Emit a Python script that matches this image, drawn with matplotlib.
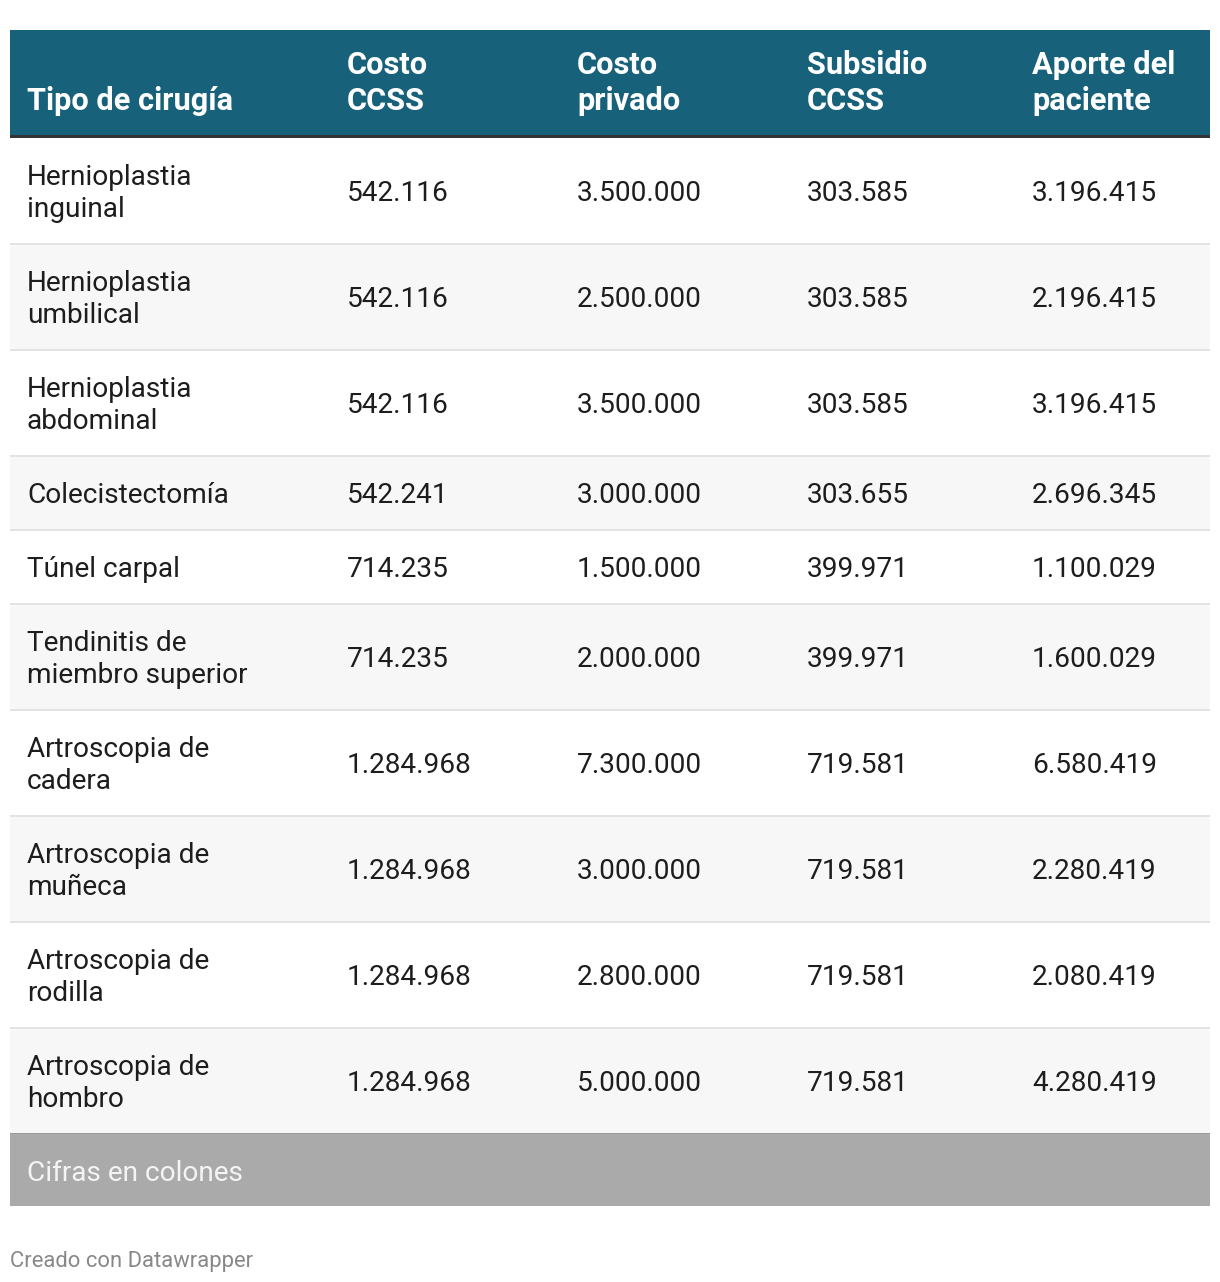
import matplotlib
matplotlib.use("Agg")
import matplotlib.pyplot as plt
from matplotlib.patches import Rectangle

# ---------------- data ----------------
tipos = [
    "Hernioplastia\ninguinal",
    "Hernioplastia\numbilical",
    "Hernioplastia\nabdominal",
    "Colecistectomía",
    "Túnel carpal",
    "Tendinitis de\nmiembro superior",
    "Artroscopia de\ncadera",
    "Artroscopia de\nmuñeca",
    "Artroscopia de\nrodilla",
    "Artroscopia de\nhombro",
]
costo_ccss = [542116, 542116, 542116, 542241, 714235, 714235, 1284968, 1284968, 1284968, 1284968]
costo_privado = [3500000, 2500000, 3500000, 3000000, 1500000, 2000000, 7300000, 3000000, 2800000, 5000000]
subsidio_ccss = [303585, 303585, 303585, 303655, 399971, 399971, 719581, 719581, 719581, 719581]
aporte_paciente = [3196415, 2196415, 3196415, 2696345, 1100029, 1600029, 6580419, 2280419, 2080419, 4280419]
headers = ["Tipo de cirugía", "Costo\nCCSS", "Costo\nprivado", "Subsidio\nCCSS", "Aporte del\npaciente"]
nota = "Cifras en colones"
credito = "Creado con Datawrapper"

# ---------------- style ----------------
W, H = 1220, 1282
DPI = 100
PX = 72.0 / DPI  # points per pixel
FONT = "Roboto"
body_px = 28.0
head_px = 30.8
cap = 0.711

col_x = [27, 347, 577, 807, 1032]
left, right = 10, 1210
top = 30
head_h = 105
border_h = 3
line_gap_body = 32
line_gap_head = 36

header_color = "#17627a"
text_color = "#1d1d1d"
alt_color = "#f7f7f7"
sep_color = "#e3e3e3"
footer_color = "#aaaaaa"


def fmt(v):
    return f"{v:,}".replace(",", ".")


fig = plt.figure(figsize=(W / DPI, H / DPI), dpi=DPI)
ax = fig.add_axes([0, 0, 1, 1])
ax.set_xlim(0, W)
ax.set_ylim(H, 0)
ax.axis("off")
fig.patch.set_facecolor("white")


def draw_lines(x, center, text, px, gap, **kw):
    lines = text.split("\n")
    n = len(lines)
    for i, ln in enumerate(lines):
        c = center + (i - (n - 1) / 2) * gap
        ax.text(x, c + cap * px / 2, ln, fontsize=px * PX, family=FONT,
                va="baseline", ha="left", **kw)


# header
ax.add_patch(Rectangle((left, top), right - left, head_h, color=header_color, lw=0))
ax.add_patch(Rectangle((left, top + head_h), right - left, border_h, color="#333333", lw=0))
for x, h in zip(col_x, headers):
    n = len(h.split("\n"))
    base_last = top + 80
    center = base_last - cap * head_px / 2 - (n - 1) * line_gap_head / 2
    draw_lines(x, center, h, head_px, line_gap_head, color="white", fontweight="bold")

# body
y = top + head_h + border_h
for i, t in enumerate(tipos):
    n = len(t.split("\n"))
    rh = 42 + line_gap_body * n
    if i % 2 == 1:
        ax.add_patch(Rectangle((left, y), right - left, rh, color=alt_color, lw=0))
    if i > 0:
        ax.add_patch(Rectangle((left, y - 1), right - left, 2, color=sep_color, lw=0))
    c = y + rh / 2
    draw_lines(col_x[0], c, t, body_px, line_gap_body, color=text_color)
    for x, vals in zip(col_x[1:], [costo_ccss, costo_privado, subsidio_ccss, aporte_paciente]):
        draw_lines(x, c, fmt(vals[i]), body_px, line_gap_body, color=text_color)
    y += rh

# footer note
ax.add_patch(Rectangle((left, y - 1), right - left, 2, color="#999999", lw=0))
ax.add_patch(Rectangle((left, y), right - left, 72, color=footer_color, lw=0))
draw_lines(col_x[0], y + 37, nota, body_px, line_gap_body, color="#f4f4f4")

# credit
draw_lines(left, y + 125, credito, 22, 0, color="#888888")

fig.savefig("out.png", dpi=DPI)
